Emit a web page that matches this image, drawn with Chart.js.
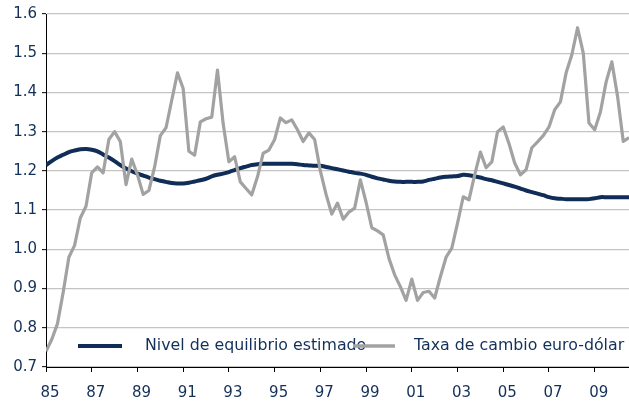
<!DOCTYPE html>
<html>
<head>
<meta charset="utf-8">
<script src="https://cdn.jsdelivr.net/npm/chart.js@4/dist/chart.umd.min.js"></script>
<style>
html,body{margin:0;padding:0;background:#fff;}
canvas{display:block;}
</style>
</head>
<body>
<canvas id="c" width="629" height="403"></canvas>
<script>
// Quarterly categories 1985Q1 .. 2010Q3
const startYear = 1985;
const nQuarters = 103;
const quarters = [];
for (let i = 0; i < nQuarters; i++) {
  quarters.push((startYear + Math.floor(i / 4)) + 'T' + (i % 4 + 1));
}
const yearTickLabels = ['85','87','89','91','93','95','97','99','01','03','05','07','09'];
const seriesNames = ['Nivel de equilibrio estimado', 'Taxa de cambio euro-dólar'];

const equilibrio = [
  1.215,1.225,1.234,1.241,1.248,1.252,1.255,1.256,1.254,1.250,
  1.242,1.234,1.225,1.215,1.206,1.199,1.193,1.188,1.183,1.179,
  1.175,1.172,1.169,1.168,1.168,1.170,1.173,1.176,1.180,1.186,
  1.190,1.193,1.197,1.202,1.207,1.211,1.215,1.217,1.218,1.218,
  1.218,1.218,1.218,1.218,1.217,1.215,1.214,1.213,1.213,1.210,
  1.207,1.204,1.201,1.198,1.195,1.193,1.190,1.185,1.181,1.178,
  1.175,1.173,1.172,1.172,1.172,1.172,1.173,1.177,1.180,1.183,
  1.185,1.186,1.187,1.190,1.189,1.186,1.183,1.179,1.176,1.172,
  1.168,1.164,1.160,1.155,1.150,1.146,1.142,1.138,1.133,1.130,
  1.129,1.128,1.128,1.128,1.128,1.128,1.130,1.133,1.133,1.133,
  1.133,1.133,1.133
];

const taxaCambio = [
  0.740,0.770,0.810,0.890,0.980,1.010,1.080,1.110,1.195,1.210,
  1.195,1.280,1.300,1.275,1.165,1.230,1.190,1.140,1.150,1.210,
  1.290,1.310,1.380,1.450,1.410,1.250,1.240,1.325,1.333,1.337,
  1.457,1.320,1.223,1.236,1.172,1.155,1.139,1.185,1.245,1.253,
  1.280,1.335,1.323,1.330,1.305,1.275,1.297,1.280,1.200,1.140,
  1.090,1.118,1.077,1.095,1.105,1.177,1.120,1.055,1.047,1.037,
  0.977,0.935,0.905,0.870,0.924,0.870,0.890,0.893,0.876,0.930,
  0.980,1.003,1.067,1.134,1.126,1.190,1.248,1.208,1.223,1.300,
  1.312,1.270,1.220,1.190,1.203,1.259,1.274,1.290,1.312,1.356,
  1.376,1.450,1.496,1.565,1.500,1.322,1.305,1.350,1.427,1.478,
  1.390,1.275,1.285
];

const navy = '#0f2d57';
const grey = '#a2a2a2';
const textColor = '#13305a';
const fontFamily = '"DejaVu Sans", "Liberation Sans", Arial, sans-serif';

const legendPlugin = {
  id: 'insideLegend',
  afterDraw(chart) {
    const ctx = chart.ctx;
    const items = [
      {name: seriesNames[0], color: navy, width: 4, x0: 78, x1: 122, tx: 145},
      {name: seriesNames[1], color: grey, width: 3.5, x0: 353, x1: 395, tx: 414}
    ];
    const y = 346;
    ctx.save();
    items.forEach(it => {
      ctx.beginPath();
      ctx.strokeStyle = it.color;
      ctx.lineWidth = it.width;
      ctx.lineCap = 'butt';
      ctx.moveTo(it.x0, y);
      ctx.lineTo(it.x1, y);
      ctx.stroke();
      ctx.fillStyle = textColor;
      ctx.font = '15.8px ' + fontFamily;
      ctx.textBaseline = 'middle';
      ctx.textAlign = 'left';
      ctx.fillText(it.name, it.tx, y);
    });
    ctx.restore();
  }
};

new Chart(document.getElementById('c'), {
  type: 'line',
  data: {
    datasets: [
      {
        label: seriesNames[1],
        data: taxaCambio.map((v, i) => ({x: i, y: v})),
        borderColor: grey,
        borderWidth: 3.2,
        pointRadius: 0,
        tension: 0,
        borderJoinStyle: 'round',
        order: 1
      },
      {
        label: seriesNames[0],
        data: equilibrio.map((v, i) => ({x: i, y: v})),
        borderColor: navy,
        borderWidth: 4,
        pointRadius: 0,
        tension: 0.3,
        borderJoinStyle: 'round',
        order: 2
      }
    ]
  },
  options: {
    responsive: false,
    animation: false,
    devicePixelRatio: 1,
    layout: {padding: {top: 14, right: 0, left: 0, bottom: 0}},
    plugins: {
      legend: {display: false},
      tooltip: {enabled: false}
    },
    scales: {
      x: {
        type: 'linear',
        min: 0,
        max: nQuarters - 1,
        afterFit(scale) { scale.height = 36; },
        afterBuildTicks(scale) {
          scale.ticks = yearTickLabels.map((_, k) => ({value: k * 8}));
        },
        ticks: {
          callback: (v) => yearTickLabels[Math.round(v / 8)],
          color: textColor,
          font: {family: fontFamily, size: 15},
          padding: 12,
          labelOffset: 4,
          maxRotation: 0,
          autoSkip: false
        },
        grid: {
          drawOnChartArea: false,
          drawTicks: true,
          tickLength: 5,
          tickColor: '#000000',
          tickWidth: 1
        },
        border: {color: '#000000', width: 1}
      },
      y: {
        min: 0.7,
        max: 1.6,
        afterFit(scale) { scale.width = 46; },
        ticks: {
          stepSize: 0.1,
          callback: (v) => Number(v).toFixed(1),
          color: textColor,
          font: {family: fontFamily, size: 15},
          padding: 5
        },
        grid: {
          color: '#c4c4c4',
          lineWidth: 1.3,
          tickLength: 4,
          tickColor: '#000000',
          tickWidth: 1
        },
        border: {color: '#000000', width: 1}
      }
    }
  },
  plugins: [legendPlugin]
});
</script>
</body>
</html>
